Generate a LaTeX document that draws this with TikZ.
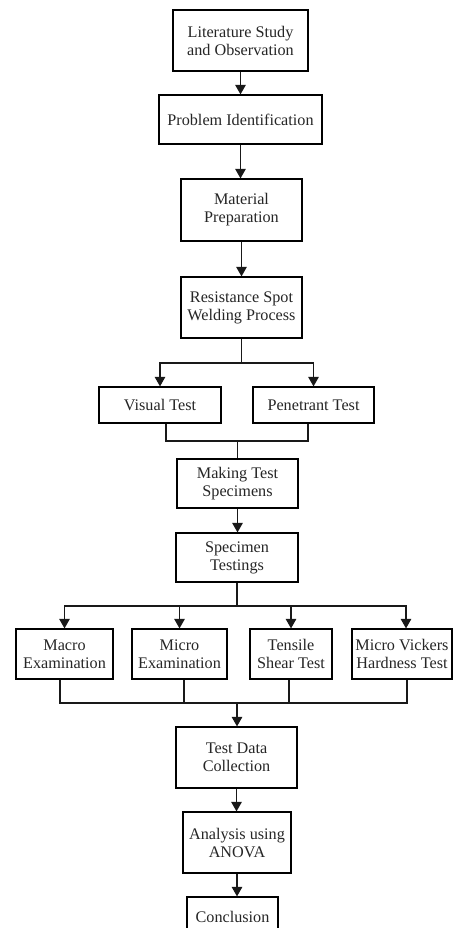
\documentclass[tikz,border=0pt]{standalone}
\usepackage{fontspec}
\setmainfont{Liberation Serif}
\usetikzlibrary{arrows.meta}
\begin{document}
\begin{tikzpicture}[x=1pt,y=-1pt,
  box/.style={draw=black, line width=1.2pt, inner sep=0pt, align=center,
    font=\fontsize{16.2}{18}\selectfont, text=black!85},
  conn/.style={line width=1.2pt, draw=black!90},
  arr/.style={conn, -{Triangle[width=10.5pt,length=9.5pt]}}]
\useasboundingbox (0,0) rectangle (455,928);
\clip (0,0) rectangle (455,928);
\fill[white] (0,0) rectangle (455,928);

\node[box, minimum width=135pt, minimum height=61pt] (lit) at (240.5,40.5) {Literature Study\\and Observation};
\node[box, minimum width=163pt, minimum height=49pt] (prob) at (240.5,119.5) {Problem Identification};
\node[box, minimum width=121pt, minimum height=62pt] (mat) at (241.5,210) {Material\\Preparation};
\node[box, minimum width=121pt, minimum height=61pt] (rsw) at (241.5,307.5) {Resistance Spot\\Welding Process};
\node[box, minimum width=122pt, minimum height=36pt] (vis) at (160,405) {Visual Test};
\node[box, minimum width=121pt, minimum height=36pt] (pen) at (313.5,405) {Penetrant Test};
\node[box, minimum width=121pt, minimum height=49pt] (mts) at (237.5,483.5) {Making Test\\Specimens};
\node[box, minimum width=122pt, minimum height=49pt] (spt) at (237,557.5) {Specimen\\Testings};
\node[box, minimum width=97pt, minimum height=50pt] (mac) at (64.5,654) {Macro\\Examination};
\node[box, minimum width=95pt, minimum height=50pt] (mic) at (179.5,654) {Micro\\Examination};
\node[box, minimum width=82pt, minimum height=50pt] (ten) at (291,654) {Tensile\\Shear Test};
\node[box, minimum width=100pt, minimum height=50pt] (vic) at (402,654) {Micro Vickers\\Hardness Test};
\node[box, minimum width=121pt, minimum height=61pt] (tdc) at (236.5,757.5) {Test Data\\Collection};
\node[box, minimum width=108pt, minimum height=61pt] (ana) at (237,842.5) {Analysis using\\ANOVA};
\node[box, minimum width=91pt, minimum height=39pt] (con) at (232.5,916.5) {Conclusion};

\draw[arr] (lit.south) -- (lit.south |- prob.north);
\draw[arr] (prob.south) -- (prob.south |- mat.north);
\draw[arr] (mat.south) -- (mat.south |- rsw.north);

\coordinate (j1) at (241.5,363);
\draw[conn] (rsw.south) -- (j1);
\draw[arr] (j1) -| (vis.north);
\draw[arr] (j1) -| (pen.north);

\coordinate (m1) at (237.5,441);
\draw[conn] ([xshift=6pt]vis.south) |- (m1) -| ([xshift=-5.5pt]pen.south);
\draw[conn] (m1) -- (mts.north);

\draw[arr] (mts.south) -- (mts.south |- spt.north);

\coordinate (j2) at (237,606);
\draw[conn] (spt.south) -- (j2);
\draw[arr] (j2) -| (mac.north);
\draw[arr] (j2) -| (mic.north);
\draw[arr] (j2) -| (ten.north);
\draw[arr] (j2) -| ([xshift=4pt]vic.north);

\coordinate (m2) at (237,703);
\draw[conn] ([xshift=-4.5pt]mac.south) |- (m2) -| ([xshift=5pt]vic.south);
\draw[conn] ([xshift=4.5pt]mic.south) -- ([xshift=4.5pt]mic.south |- m2);
\draw[conn] ([xshift=-2pt]ten.south) -- ([xshift=-2pt]ten.south |- m2);
\draw[arr] (m2) -- (m2 |- tdc.north);

\draw[arr] (tdc.south) -- (tdc.south |- ana.north);
\draw[arr] (ana.south) -- (ana.south |- con.north);
\end{tikzpicture}
\end{document}
